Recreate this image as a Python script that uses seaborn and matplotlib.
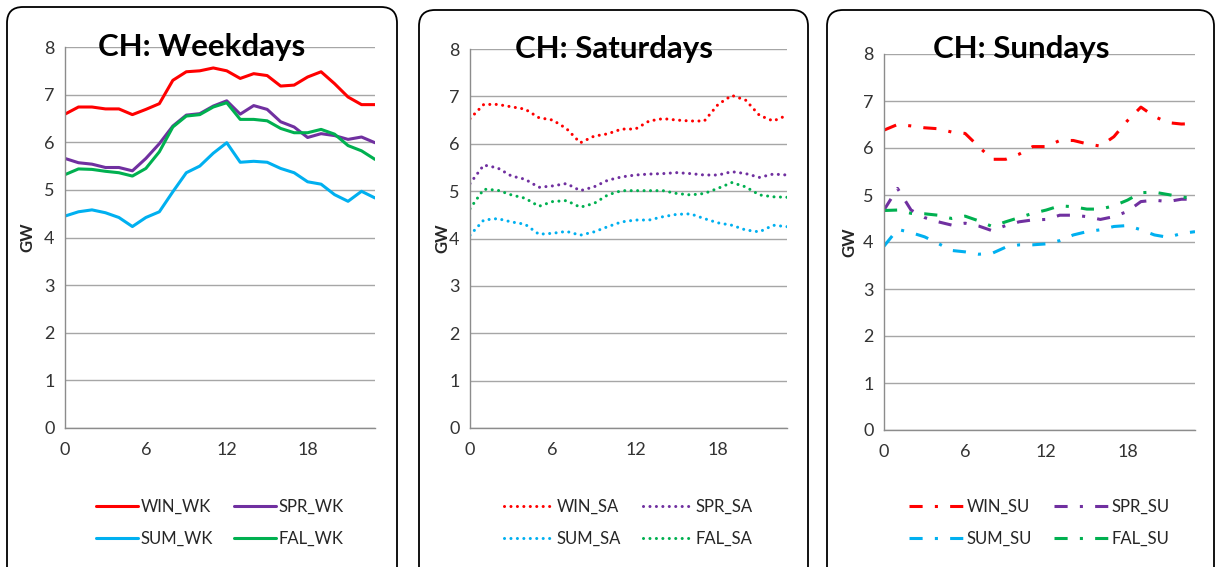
import numpy as np
import pandas as pd
import matplotlib.pyplot as plt
import seaborn as sns
from matplotlib.patches import FancyBboxPatch
from matplotlib.ticker import MultipleLocator

hours = list(range(24))
seasons = ['WIN', 'SPR', 'SUM', 'FAL']

# weekdays
win_wk = [6.59, 6.74, 6.74, 6.70, 6.70, 6.58, 6.69, 6.81, 7.30, 7.48, 7.50, 7.56,
          7.50, 7.34, 7.44, 7.40, 7.18, 7.20, 7.37, 7.48, 7.23, 6.95, 6.79, 6.79]
spr_wk = [5.66, 5.57, 5.54, 5.47, 5.47, 5.40, 5.66, 5.97, 6.34, 6.57, 6.60, 6.76,
          6.87, 6.59, 6.77, 6.69, 6.43, 6.32, 6.10, 6.18, 6.14, 6.06, 6.11, 5.99]
sum_wk = [4.45, 4.54, 4.58, 4.52, 4.42, 4.23, 4.42, 4.54, 4.96, 5.36, 5.50, 5.77,
          5.99, 5.58, 5.60, 5.58, 5.45, 5.36, 5.17, 5.12, 4.90, 4.76, 4.97, 4.83]
fal_wk = [5.32, 5.44, 5.43, 5.39, 5.36, 5.29, 5.45, 5.80, 6.32, 6.55, 6.58, 6.74,
          6.83, 6.48, 6.48, 6.45, 6.29, 6.20, 6.20, 6.27, 6.17, 5.93, 5.82, 5.64]

# saturdays
win_sa = [6.53, 6.83, 6.83, 6.78, 6.73, 6.55, 6.50, 6.32, 6.02, 6.16, 6.21, 6.31,
          6.31, 6.48, 6.53, 6.50, 6.48, 6.48, 6.83, 7.02, 6.92, 6.60, 6.48, 6.60]
spr_sa = [5.16, 5.55, 5.49, 5.32, 5.25, 5.08, 5.11, 5.16, 5.01, 5.09, 5.23, 5.30,
          5.34, 5.36, 5.37, 5.39, 5.37, 5.34, 5.34, 5.41, 5.37, 5.29, 5.36, 5.34]
sum_sa = [4.07, 4.39, 4.42, 4.35, 4.30, 4.09, 4.11, 4.15, 4.07, 4.14, 4.25, 4.35,
          4.39, 4.39, 4.46, 4.51, 4.52, 4.42, 4.33, 4.28, 4.18, 4.14, 4.28, 4.25]
fal_sa = [4.63, 5.04, 5.02, 4.92, 4.85, 4.68, 4.78, 4.80, 4.66, 4.74, 4.92, 5.01,
          5.01, 5.01, 5.01, 4.95, 4.92, 4.95, 5.06, 5.18, 5.09, 4.92, 4.88, 4.87]

# sundays
win_su = [6.38, 6.50, 6.47, 6.43, 6.41, 6.34, 6.31, 6.03, 5.76, 5.76, 5.87, 6.03,
          6.03, 6.16, 6.16, 6.09, 6.04, 6.24, 6.58, 6.87, 6.67, 6.54, 6.51, 6.52]
spr_su = [4.68, 5.14, 4.68, 4.52, 4.43, 4.36, 4.40, 4.34, 4.24, 4.35, 4.43, 4.47,
          4.48, 4.57, 4.57, 4.54, 4.48, 4.54, 4.65, 4.86, 4.89, 4.86, 4.91, 4.91]
sum_su = [3.91, 4.27, 4.20, 4.11, 3.97, 3.82, 3.79, 3.74, 3.76, 3.89, 3.94, 3.94,
          3.96, 4.03, 4.15, 4.22, 4.26, 4.33, 4.35, 4.26, 4.15, 4.10, 4.18, 4.22]
fal_su = [4.67, 4.68, 4.61, 4.60, 4.57, 4.50, 4.55, 4.45, 4.33, 4.43, 4.52, 4.61,
          4.68, 4.77, 4.75, 4.70, 4.70, 4.77, 4.89, 5.05, 5.06, 5.01, 4.96, 4.92]

palette = ['#FF0000', '#7030A0', '#00B0F0', '#00B050']


def make_df(suffix, series):
    rows = []
    for s, vals in zip(seasons, series):
        for h, v in zip(hours, vals):
            rows.append({'hour': h, 'GW': v, 'series': s + '_' + suffix})
    return pd.DataFrame(rows)


panels = [
    dict(title='CH: Weekdays', suffix='WK', data=[win_wk, spr_wk, sum_wk, fal_wk],
         dashes='', lw=2.2, cap='butt',
         ax_px=(65, 375, 47, 428), lab_x=35, title_xy=(202, 56),
         box=(7, 397, 7), handlelen=2.5),
    dict(title='CH: Saturdays', suffix='SA', data=[win_sa, spr_sa, sum_sa, fal_sa],
         dashes=(0.01, 2.1), lw=2.2, cap='round',
         ax_px=(470, 787, 49, 428), lab_x=450, title_xy=(614, 58),
         box=(419, 808, 10), handlelen=3.0),
    dict(title='CH: Sundays', suffix='SU', data=[win_su, spr_su, sum_su, fal_su],
         dashes=(4.3, 4, 1, 4), lw=2.2, cap='butt',
         ax_px=(884, 1195, 54, 430), lab_x=857, title_xy=(1021, 58),
         box=(827, 1214, 10), handlelen=3.3),
]

sns.set_style('white')
plt.rcParams['font.family'] = ['Lato', 'DejaVu Sans']

W, H = 1216, 567
fig = plt.figure(figsize=(W / 100, H / 100), dpi=100)

for p in panels:
    x0, x1, y0, y1 = p['ax_px']
    ax = fig.add_axes([x0 / W, 1 - y1 / H, (x1 - x0) / W, (y1 - y0) / H])
    df = make_df(p['suffix'], p['data'])
    names = [s + '_' + p['suffix'] for s in seasons]
    sns.lineplot(data=df, x='hour', y='GW', hue='series', style='series',
                 hue_order=names, style_order=names, palette=palette,
                 dashes={n: p['dashes'] for n in names}, linewidth=p['lw'],
                 dash_capstyle=p['cap'], legend=False, ax=ax)

    ax.set_xlim(0, 23)
    ax.set_ylim(0, 8)
    ax.xaxis.set_major_locator(MultipleLocator(6))
    ax.xaxis.set_minor_locator(MultipleLocator(3))
    ax.yaxis.set_major_locator(MultipleLocator(1))
    ax.grid(axis='y', color='#A6A6A6', lw=1)
    ax.grid(axis='x', visible=False)
    for side in ['top', 'right']:
        ax.spines[side].set_visible(False)
    for side in ['left', 'bottom']:
        ax.spines[side].set_color('#8C8C8C')
        ax.spines[side].set_linewidth(1)
    ax.tick_params(axis='both', which='both', direction='out', length=4,
                   color='#8C8C8C', labelsize=13, labelcolor='#333333')
    ax.tick_params(axis='x', pad=6)
    ax.set_xlabel('')
    ax.set_ylabel('GW', fontsize=12, fontweight='bold')
    ax.yaxis.set_label_coords((p['lab_x'] - x0) / (x1 - x0), 0.5)

    tx, ty = p['title_xy']
    fig.text(tx / W, 1 - ty / H, p['title'], ha='center', va='baseline',
             fontsize=22.5, fontweight='bold', color='black')

    # legend: row 1 WIN, SPR / row 2 SUM, FAL
    lines = ax.get_lines()[:4]
    order = [0, 2, 1, 3]
    leg_y = (y1 - 523) / (y1 - y0)
    ax.legend([lines[i] for i in order], [names[i] for i in order],
              loc='center', bbox_to_anchor=(0.5, leg_y), ncol=2, frameon=False,
              fontsize=12, handlelength=p['handlelen'], handletextpad=0.15,
              columnspacing=1.3, labelspacing=0.95)

    bx0, bx1, by0 = p['box']
    box = FancyBboxPatch((bx0 / 100, -0.2), (bx1 - bx0) / 100, (H - by0) / 100 + 0.2,
                         boxstyle='round,pad=0,rounding_size=0.16',
                         transform=fig.dpi_scale_trans, fill=False,
                         ec='black', lw=1.3)
    fig.add_artist(box)

fig.savefig('out.png', dpi=100)
